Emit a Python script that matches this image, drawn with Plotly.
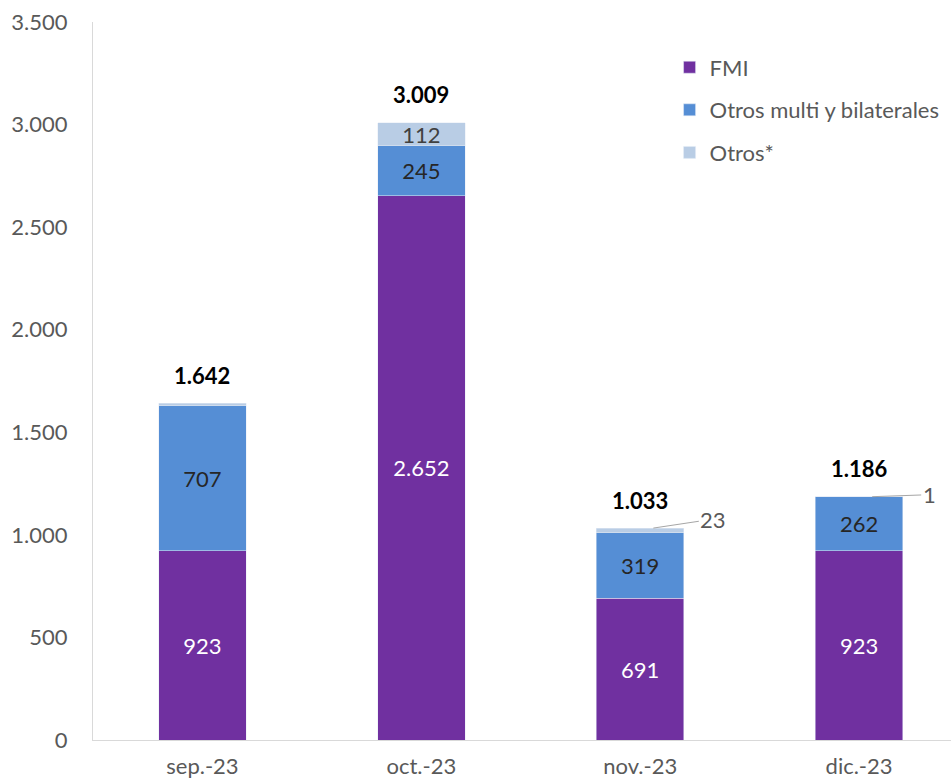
import plotly.graph_objects as go

categories = ["sep.-23", "oct.-23", "nov.-23", "dic.-23"]
fmi = [923, 2652, 691, 923]
otros_multi = [707, 245, 319, 262]
otros = [12, 112, 23, 1]
totals = [1642, 3009, 1033, 1186]
y_ticks = [0, 500, 1000, 1500, 2000, 2500, 3000, 3500]


def fmt(v):
    return f"{v:,}".replace(",", ".")


FONT = "Lato, Open Sans, sans-serif"
GREY = "#595959"
FS = 22

fig = go.Figure()
fig.add_trace(go.Bar(
    x=categories, y=fmi, name="FMI", marker_color="#7030A0", legendgroup="a",
    text=[fmt(v) for v in fmi], textposition="inside", insidetextanchor="middle",
    textfont=dict(color="white", size=FS, family=FONT), width=0.4,
))
fig.add_trace(go.Bar(
    x=categories, y=otros_multi, name="Otros multi y bilaterales", marker_color="#558ED5",
    legendgroup="b",
    text=[fmt(v) for v in otros_multi], textposition="inside", insidetextanchor="middle",
    textfont=dict(color="#262626", size=FS, family=FONT), width=0.4,
))
otros_text = [fmt(v) if v >= 100 else "" for v in otros]
fig.add_trace(go.Bar(
    x=categories, y=otros, name="Otros*", marker_color="#B9CDE5", legendgroup="c",
    text=otros_text, textposition="inside", insidetextanchor="middle",
    textfont=dict(color="#404040", size=FS, family=FONT), width=0.4,
))

ann = []
for c, t in zip(categories, totals):
    ann.append(dict(x=c, y=t, text=f"<b>{fmt(t)}</b>", showarrow=False, yshift=28,
                    font=dict(size=FS, color="black", family=FONT)))

# leader-line labels for small segments
for i, (axp, ayp) in [(2, (60, -9)), (3, (57, -2))]:
    ann.append(dict(x=i + 0.06, y=totals[i], xref="x", yref="y", text=fmt(otros[i]),
                    showarrow=True, arrowhead=0, arrowwidth=1, arrowcolor="#A6A6A6",
                    ax=axp, ay=ayp, font=dict(size=FS, color=GREY, family=FONT)))

fig.update_layout(
    barmode="stack",
    width=951, height=782,
    margin=dict(l=93, r=0, t=22, b=42),
    plot_bgcolor="white", paper_bgcolor="white",
    font=dict(family=FONT, size=FS, color=GREY),
    uniformtext=dict(minsize=FS, mode="show"),
    showlegend=True,
    legend=dict(x=0.672, y=0.966, xanchor="left", yanchor="top", traceorder="grouped",
                font=dict(size=FS, color=GREY, family=FONT), tracegroupgap=11,
                itemwidth=30, bgcolor="rgba(0,0,0,0)"),
    annotations=ann,
)
fig.update_xaxes(
    type="category", range=[-0.5, 3.42], showline=True, linecolor="#D9D9D9", linewidth=1,
    showgrid=False, ticks="", ticklabelstandoff=7, automargin=False,
    tickfont=dict(size=FS, color=GREY, family=FONT),
)
fig.update_yaxes(
    range=[0, 3500], tickvals=y_ticks, ticktext=[fmt(v) for v in y_ticks],
    showline=True, linecolor="#D9D9D9", linewidth=1, showgrid=False, zeroline=False,
    ticks="", ticklabelstandoff=20, automargin=False,
    tickfont=dict(size=FS, color=GREY, family=FONT),
)

fig.write_html("out.html")
